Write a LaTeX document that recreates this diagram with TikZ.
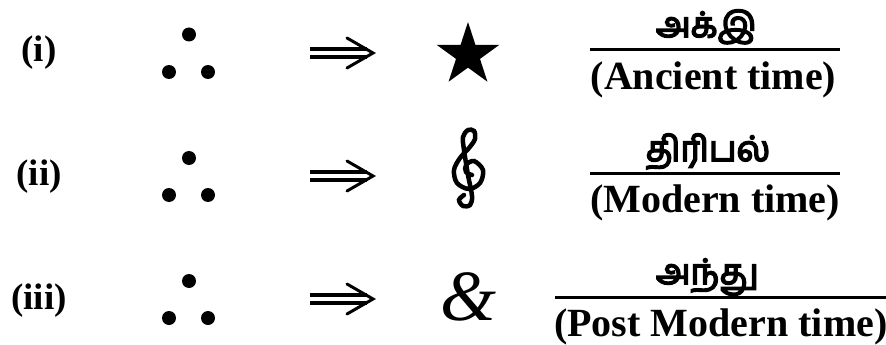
\documentclass[tikz,border=0pt]{standalone}
\usepackage{fontspec}
\usepackage{tikz}
\setmainfont{Liberation Serif}
\newfontfamily\tamilfont[Script=Tamil, FakeBold=4.5]{Hind Madurai}
\usetikzlibrary{shapes.geometric}

\tikzset{
  rowlabel/.style={anchor=base, inner sep=0pt, font=\fontsize{37pt}{44pt}\selectfont\bfseries},
  bullet/.style={circle, fill=black, minimum size=14pt, inner sep=0pt},
  implyshaft/.style={double, double distance=4.5pt, line width=3.6pt},
  implyhead/.style={line width=3pt, line cap=round, line join=miter},
  tamilword/.style={anchor=base, inner sep=0pt, font=\tamilfont\fontsize{35pt}{40pt}\selectfont},
  eraname/.style={anchor=base, inner sep=0pt, font=\fontsize{40pt}{48pt}\selectfont\bfseries},
  fracbar/.style={line width=3pt},
}

\begin{document}
\begin{tikzpicture}[x=1pt, y=-1pt]%
\useasboundingbox (0,0) rectangle (886,345);%
% row (i)
\node[rowlabel] (lbl1) at (39,62) {(i)};%
\node[bullet] (dotT1) at (189,34.5) {};%
\node[bullet] (dotL1) at (169,72) {};%
\node[bullet] (dotR1) at (208,72) {};%
\coordinate (arrL1) at (310,53);%
\coordinate (arrT1) at (373,53);%
\draw[implyshaft] (arrL1) -- ++(57,0);%
\draw[implyhead] (arrT1) ++(-26,-15) -- (arrT1) -- ++(-26,15);%
\node[star, star points=5, star point ratio=2.618, fill=black, minimum size=66pt, inner sep=0pt] (sym1) at (468,55) {};%
\node[tamilword] (ta1) at (706,37) {அக்இ};%
\coordinate (barL1) at (590,50);%
\coordinate (barR1) at (840,50);%
\draw[fracbar] (barL1) -- (barR1);%
\node[eraname] (en1) at (713.5,89) {(Ancient time)};%
% row (ii)
\node[rowlabel] (lbl2) at (39,185) {(ii)};%
\node[bullet] (dotT2) at (189,158) {};%
\node[bullet] (dotL2) at (169,195) {};%
\node[bullet] (dotR2) at (208,195) {};%
\coordinate (arrL2) at (310,176);%
\coordinate (arrT2) at (373,176);%
\draw[implyshaft] (arrL2) -- ++(57,0);%
\draw[implyhead] (arrT2) ++(-26,-15) -- (arrT2) -- ++(-26,15);%
\draw[line width=4.5pt, line cap=round] plot[smooth, tension=0.55] coordinates {%
  (472,175) (466,172) (466,165) (474,161) (483,170) (480,183) (469,189) (457,183)
  (454,170) (460,158) (469,148) (475,139) (474,131) (468,130) (463,137) (464,150)
  (468,175) (472,196) (470,205) (463,206) (459,200) (464,195)};%
\node[tamilword] (ta2) at (708,161) {திரிபல்};%
\coordinate (barL2) at (590,173);%
\coordinate (barR2) at (840,173);%
\draw[fracbar] (barL2) -- (barR2);%
\node[eraname] (en2) at (715,212) {(Modern time)};%
% row (iii)
\node[rowlabel] (lbl3) at (39,309) {(iii)};%
\node[bullet] (dotT3) at (189,281) {};%
\node[bullet] (dotL3) at (169,318) {};%
\node[bullet] (dotR3) at (208,318) {};%
\coordinate (arrL3) at (310,299);%
\coordinate (arrT3) at (373,299);%
\draw[implyshaft] (arrL3) -- ++(57,0);%
\draw[implyhead] (arrT3) ++(-26,-15) -- (arrT3) -- ++(-26,15);%
\node[anchor=base, inner sep=0pt, font=\fontsize{72pt}{80pt}\selectfont\itshape] (sym3) at (468.5,320) {\&};%
\node[tamilword] (ta3) at (707,284) {அந்து};%
\coordinate (barL3) at (555,297);%
\coordinate (barR3) at (890,297);%
\draw[fracbar] (barL3) -- (barR3);%
\node[eraname, anchor=base west] (en3) at (554,336) {(Post Modern time)};%
\end{tikzpicture}
\end{document}
